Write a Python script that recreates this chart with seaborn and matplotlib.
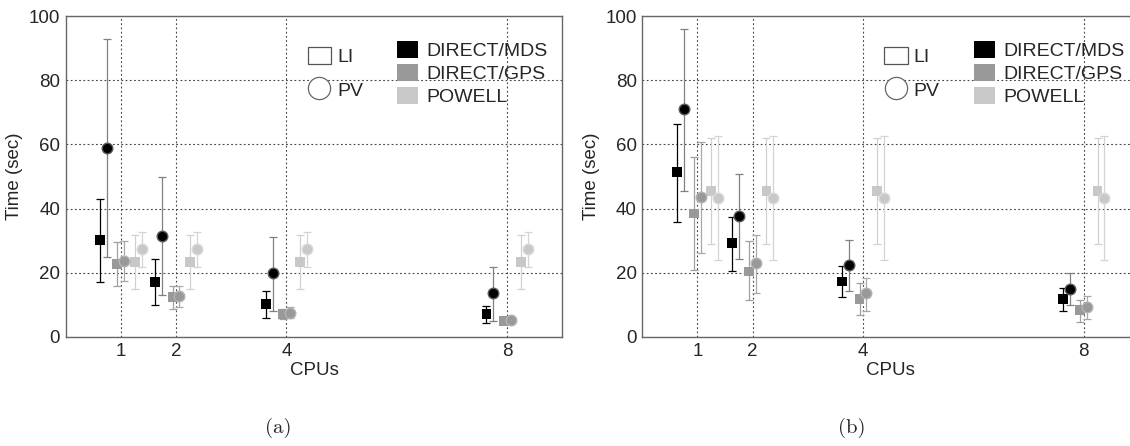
import numpy as np
import pandas as pd
import matplotlib
matplotlib.use("Agg")
import matplotlib.pyplot as plt
import seaborn as sns
from matplotlib.patches import Patch
from matplotlib.lines import Line2D

# --- data (time in seconds) ---
cpus = [1, 2, 4, 8]
methods = ["DIRECT/MDS", "DIRECT/GPS", "POWELL"]

# panel (a)
a_li_mean = {"DIRECT/MDS": [30.3, 17.1, 10.3, 7.1],
             "DIRECT/GPS": [22.8, 12.5, 7.2, 5.1],
             "POWELL": [23.4, 23.4, 23.4, 23.4]}
a_li_lo = {"DIRECT/MDS": [17.1, 10.0, 5.9, 4.3],
           "DIRECT/GPS": [16.0, 8.8, 5.6, 4.3],
           "POWELL": [15.1, 15.1, 15.1, 15.1]}
a_li_hi = {"DIRECT/MDS": [43.0, 24.4, 14.3, 9.8],
           "DIRECT/GPS": [29.5, 15.9, 8.8, 5.9],
           "POWELL": [31.8, 31.8, 31.8, 31.8]}
a_pv_mean = {"DIRECT/MDS": [58.9, 31.6, 20.0, 13.7],
             "DIRECT/GPS": [23.7, 12.9, 7.6, 5.4],
             "POWELL": [27.3, 27.3, 27.3, 27.3]}
a_pv_lo = {"DIRECT/MDS": [24.8, 13.2, 8.2, 5.0],
           "DIRECT/GPS": [17.4, 9.2, 6.0, 4.6],
           "POWELL": [21.9, 21.9, 21.9, 21.9]}
a_pv_hi = {"DIRECT/MDS": [92.8, 49.8, 31.3, 21.8],
           "DIRECT/GPS": [30.0, 15.9, 9.2, 6.2],
           "POWELL": [32.6, 32.6, 32.6, 32.6]}

# panel (b)
b_li_mean = {"DIRECT/MDS": [51.4, 29.4, 17.3, 11.8],
             "DIRECT/GPS": [38.5, 20.4, 11.9, 8.3],
             "POWELL": [45.4, 45.4, 45.4, 45.4]}
b_li_lo = {"DIRECT/MDS": [35.9, 20.5, 12.5, 8.2],
           "DIRECT/GPS": [20.8, 11.6, 6.8, 4.7],
           "POWELL": [29.0, 29.0, 29.0, 29.0]}
b_li_hi = {"DIRECT/MDS": [66.4, 37.5, 22.2, 15.4],
           "DIRECT/GPS": [56.0, 29.8, 16.7, 11.5],
           "POWELL": [62.1, 62.1, 62.1, 62.1]}
b_pv_mean = {"DIRECT/MDS": [71.0, 37.6, 22.4, 15.1],
             "DIRECT/GPS": [43.6, 23.1, 13.6, 9.4],
             "POWELL": [43.3, 43.3, 43.3, 43.3]}
b_pv_lo = {"DIRECT/MDS": [45.4, 24.4, 14.4, 9.9],
           "DIRECT/GPS": [26.1, 13.8, 8.2, 5.6],
           "POWELL": [24.0, 24.0, 24.0, 24.0]}
b_pv_hi = {"DIRECT/MDS": [95.9, 50.9, 30.1, 19.9],
           "DIRECT/GPS": [60.9, 31.9, 18.4, 12.9],
           "POWELL": [62.5, 62.5, 62.5, 62.5]}

# --- style ---
sns.set_theme(style="white")
plt.rcParams["font.family"] = ["Liberation Sans", "DejaVu Sans"]

offsets = {("DIRECT/MDS", "LI"): -0.375, ("DIRECT/MDS", "PV"): -0.25,
           ("DIRECT/GPS", "LI"): -0.0625, ("DIRECT/GPS", "PV"): 0.0625,
           ("POWELL", "LI"): 0.25, ("POWELL", "PV"): 0.375}
face = {"DIRECT/MDS": "#000000", "DIRECT/GPS": "#999999", "POWELL": "#c8c8c8"}
circ_edge = {"DIRECT/MDS": "#5a5a5a", "DIRECT/GPS": "#b4b4b4", "POWELL": "#dadada"}
bar_col = {("DIRECT/MDS", "LI"): "#000000", ("DIRECT/MDS", "PV"): "#808080",
           ("DIRECT/GPS", "LI"): "#a0a0a0", ("DIRECT/GPS", "PV"): "#a8a8a8",
           ("POWELL", "LI"): "#d0d0d0", ("POWELL", "PV"): "#d4d4d4"}


def to_long(li_mean, li_lo, li_hi, pv_mean, pv_lo, pv_hi):
    rows = []
    for metric, (mn, lo, hi) in {"LI": (li_mean, li_lo, li_hi),
                                 "PV": (pv_mean, pv_lo, pv_hi)}.items():
        for m in methods:
            for i, c in enumerate(cpus):
                rows.append({"cpus": c, "method": m, "metric": metric,
                             "time": mn[m][i], "lo": lo[m][i], "hi": hi[m][i]})
    return pd.DataFrame(rows)


def draw_panel(ax, df):
    for metric in ["LI", "PV"]:
        for m in methods:
            d = df[(df["method"] == m) & (df["metric"] == metric)].copy()
            d["x"] = d["cpus"] + offsets[(m, metric)]
            ax.errorbar(d["x"], d["time"],
                        yerr=[d["time"] - d["lo"], d["hi"] - d["time"]],
                        fmt="none", ecolor=bar_col[(m, metric)],
                        elinewidth=0.9, capsize=3, capthick=0.9, zorder=3)
            if metric == "LI":
                sns.scatterplot(data=d, x="x", y="time", ax=ax, marker="s",
                                s=50, color=face[m], edgecolor="none",
                                linewidth=0, zorder=4, legend=False)
            else:
                sns.scatterplot(data=d, x="x", y="time", ax=ax, marker="o",
                                s=58, color=face[m], edgecolor=circ_edge[m],
                                linewidth=1.0, zorder=5, legend=False)

    ax.set_xlim(0, 9)
    ax.set_ylim(0, 100)
    ax.set_xticks(cpus)
    ax.set_yticks([0, 20, 40, 60, 80, 100])
    ax.set_xlabel("CPUs", fontsize=13.5, labelpad=2)
    ax.set_ylabel("Time (sec)", fontsize=13.5, labelpad=4)
    ax.tick_params(axis="both", labelsize=13.5, direction="in", length=4,
                   color="#777777", pad=4)
    ax.grid(True, color="#444444", linestyle=(0, (1.6, 2.2)), linewidth=0.8)
    ax.set_axisbelow(True)
    for sp in ax.spines.values():
        sp.set_color("#666666")
        sp.set_linewidth(1.0)

    metric_handles = [
        Patch(facecolor="white", edgecolor="#555555", linewidth=0.9, label="LI"),
        Line2D([], [], marker="o", linestyle="none", markersize=16,
               markerfacecolor="white", markeredgecolor="#666666",
               markeredgewidth=0.9, label="PV"),
    ]
    leg1 = ax.legend(handles=metric_handles, loc="upper left",
                     bbox_to_anchor=(0.46, 0.945), frameon=False, fontsize=14,
                     handlelength=1.2, handleheight=0.95, handletextpad=0.3,
                     labelspacing=0.75, borderpad=0.2)
    ax.add_artist(leg1)
    method_handles = [Patch(facecolor=face[m], edgecolor="none", label=m)
                      for m in methods]
    ax.legend(handles=method_handles, loc="upper left",
              bbox_to_anchor=(0.64, 0.965), frameon=False, fontsize=14,
              handlelength=1.1, handleheight=0.95, handletextpad=0.4,
              labelspacing=0.2, borderpad=0.2)


fig = plt.figure(figsize=(11.3, 4.46), dpi=100)
ax_a = fig.add_axes([0.0581, 0.2444, 0.4395, 0.7197])
ax_b = fig.add_axes([0.5684, 0.2444, 0.4395, 0.7197])

draw_panel(ax_a, to_long(a_li_mean, a_li_lo, a_li_hi, a_pv_mean, a_pv_lo, a_pv_hi))
draw_panel(ax_b, to_long(b_li_mean, b_li_lo, b_li_hi, b_pv_mean, b_pv_lo, b_pv_hi))

fig.text(278 / 1130, 1 - 428 / 446, "(a)", family="cmr10", fontsize=15,
         ha="center", va="center")
fig.text(852 / 1130, 1 - 428 / 446, "(b)", family="cmr10", fontsize=15,
         ha="center", va="center")

fig.savefig("out.png", dpi=100)
